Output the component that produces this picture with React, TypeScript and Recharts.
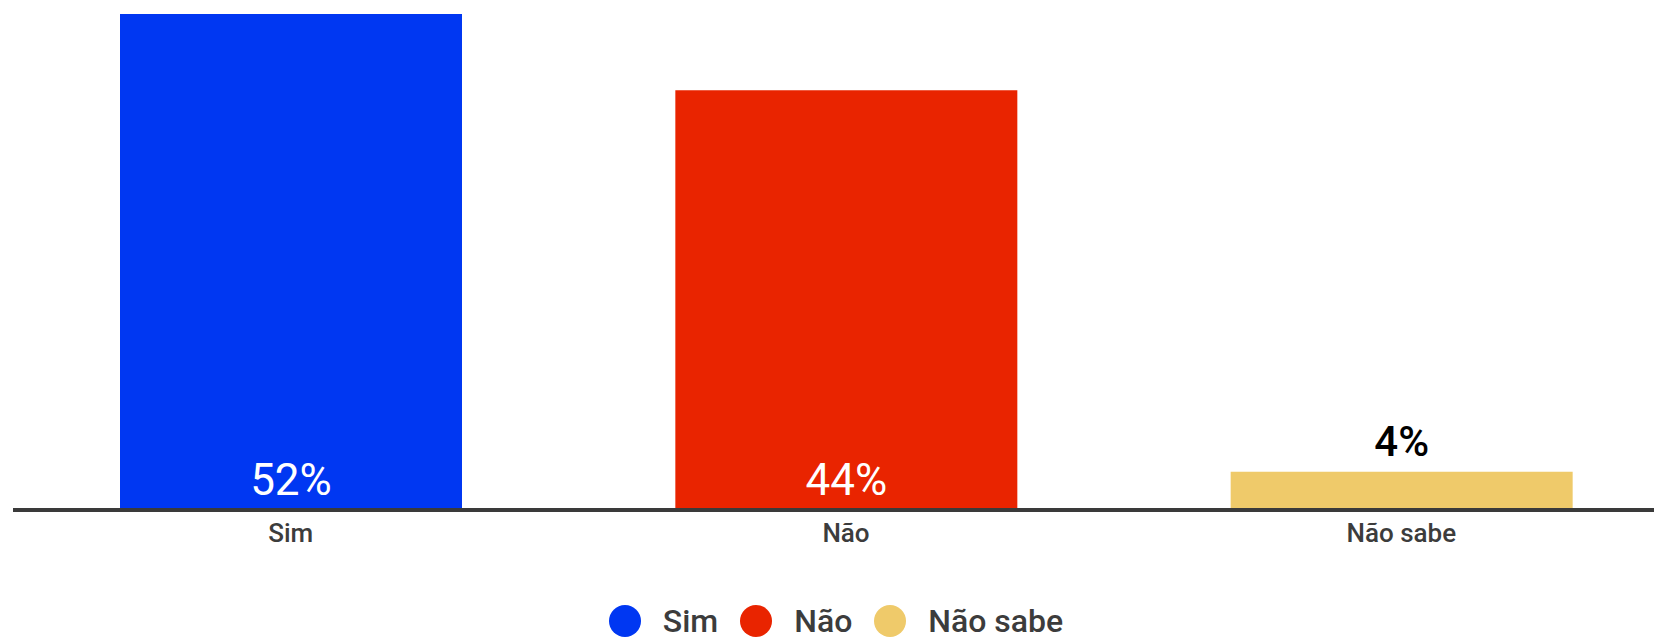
import { BarChart, Bar, XAxis, YAxis, Cell, LabelList, Legend } from 'recharts'

const categories = ['Sim', 'Não', 'Não sabe']
const values = [52, 44, 4]

const barColors = ['#0037F2', '#E92400', '#EFCA6A']
const font = 'Roboto, "Noto Sans", sans-serif'

const chartData = categories.map((name, i) => ({ name, value: values[i] }))

function BarLabel(props: any) {
  const { x, y, width, height, value } = props
  const cx = x + width / 2
  if (height > 60) {
    return (
      <text
        x={cx}
        y={y + height - 15}
        textAnchor="middle"
        fill="#ffffff"
        fontSize={44}
        fontWeight={400}
        fontFamily={font}
      >
        {value}%
      </text>
    )
  }
  return (
    <text
      x={cx}
      y={y - 16}
      textAnchor="middle"
      fill="#000000"
      fontSize={42}
      fontWeight={500}
      fontFamily={font}
    >
      {value}%
    </text>
  )
}

function LegendContent() {
  return (
    <div
      style={{
        display: 'flex',
        justifyContent: 'center',
        alignItems: 'center',
        boxSizing: 'border-box',
        height: 40,
        paddingTop: 2,
        paddingRight: 20,
        fontFamily: font,
        fontSize: 32,
        fontWeight: 500,
        lineHeight: 1,
        color: '#3c3c3c',
      }}
    >
      {categories.map((c, i) => (
        <div key={c} style={{ display: 'flex', alignItems: 'center' }}>
          <span
            style={{
              width: 32,
              height: 32,
              borderRadius: '50%',
              background: barColors[i],
              marginLeft: i === 0 ? 0 : 22,
              marginRight: 22,
              display: 'inline-block',
            }}
          />
          <span>{c}</span>
        </div>
      ))}
    </div>
  )
}

export default function App() {
  return (
    <div style={{ width: 1654, height: 632, overflow: 'hidden' }}>
      <BarChart
        width={1680}
        height={632}
        data={chartData}
        margin={{ top: 6, right: 9, left: 5, bottom: 0 }}
      >
        <XAxis
          dataKey="name"
          axisLine={{ stroke: '#3a3a3a', strokeWidth: 4 }}
          tickLine={false}
          tickMargin={8}
          height={90}
          tick={{ fill: '#3c3c3c', fontSize: 26, fontWeight: 500, fontFamily: font }}
        />
        <YAxis hide domain={[0, 52]} />
        <Legend verticalAlign="bottom" content={<LegendContent />} />
        <Bar dataKey="value" barSize={342} isAnimationActive={false}>
          {chartData.map((d, i) => (
            <Cell key={d.name} fill={barColors[i]} />
          ))}
          <LabelList dataKey="value" content={<BarLabel />} />
        </Bar>
      </BarChart>
    </div>
  )
}
